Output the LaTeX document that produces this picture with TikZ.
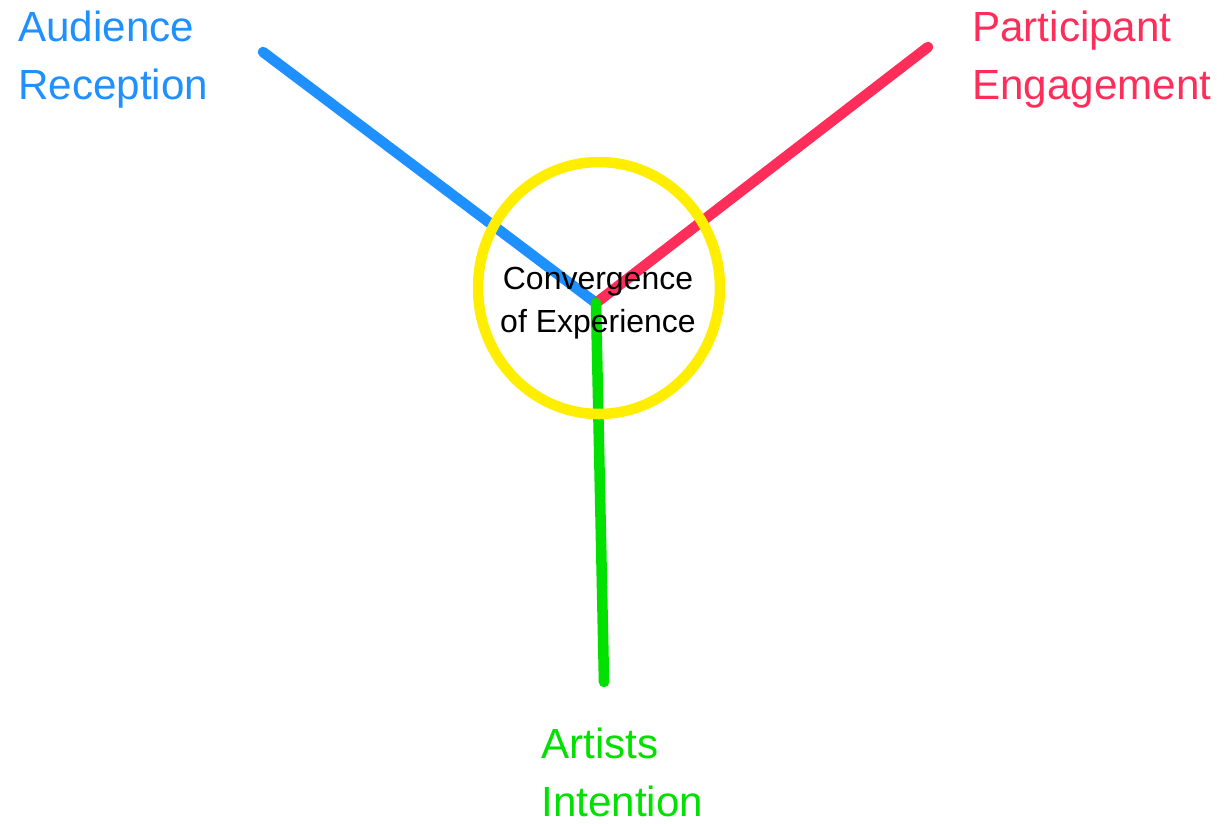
\documentclass[tikz,border=0pt]{standalone}
\usepackage{fontspec}
\setmainfont{Liberation Sans}
\usetikzlibrary{positioning,shapes.geometric}
\definecolor{audblue}{RGB}{30,144,255}
\definecolor{partred}{RGB}{255,45,90}
\definecolor{artgreen}{RGB}{0,225,0}
\definecolor{ringyellow}{RGB}{255,238,0}

\begin{document}
\begin{tikzpicture}[
  x=0.02cm, y=-0.02cm,
  spoke/.style={line width=6pt,line cap=round},
  ring/.style={draw=ringyellow,line width=6pt},
  lbl/.style={align=left,anchor=north west,inner sep=0pt,font=\fontsize{24}{33}\selectfont},
  hubtext/.style={align=center,inner sep=0pt,font=\fontsize{18.2}{24.5}\selectfont},
]
\useasboundingbox (0,0) rectangle (1224,823);
% end points of the three spokes
\coordinate (hub) at (596,303);
\coordinate (audEnd) at (263,52);
\coordinate (partEnd) at (928,47);
\coordinate (artEnd) at (604,682);

\draw[spoke,audblue] (audEnd) -- (hub);
\draw[spoke,partred] (partEnd) -- (hub);
\draw[spoke,artgreen] (hub) -- (artEnd);

% the ring
\node[ring,ellipse,minimum width=4.84cm,minimum height=5.04cm,inner sep=0pt] (circ) at (599,288) {};
\node[hubtext] (conv) at (598,303) {Convergence\\of Experience};

% labels
\node[lbl,text=audblue] (aud) at (18,11) {Audience\\Reception};
\node[lbl,text=partred] (part) at (972,11) {Participant\\Engagement};
\node[lbl,text=artgreen] (art) at (541,728) {Artists\\Intention};
\end{tikzpicture}
\end{document}
